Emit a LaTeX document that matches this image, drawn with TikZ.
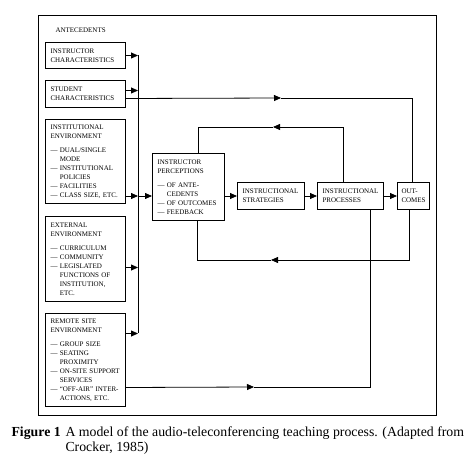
\documentclass[tikz,border=0pt]{standalone}
\usepackage{fontspec}
\setmainfont{Liberation Serif}
\usetikzlibrary{arrows.meta}

\newcommand{\dsh}{\textemdash\ }
\newcommand{\ind}{\hphantom{\textemdash\ }}

\begin{document}
\begin{tikzpicture}[x=1pt, y=-1pt,
  box/.style={draw, line width=1pt, anchor=north west, align=left,
    inner xsep=5pt, inner ysep=0pt, font=\fontsize{7}{9}\selectfont},
  line/.style={line width=0.8pt},
  arr/.style={line, -{Triangle[length=7pt,width=6pt]}}]
\useasboundingbox (0,0) rectangle (468,465);
\draw [line] (38,15) rectangle (436,415);
\node [anchor=base west, font=\fontsize{7}{9}\selectfont] (ante) at (52,33) {ANTECEDENTS};

% antecedents
\node [box, text width=70pt, minimum height=26pt] (instr) at (45,42)
  {INSTRUCTOR\\CHARACTERISTICS};
\node [box, text width=70pt, minimum height=27pt] (stud) at (45,80)
  {STUDENT\\CHARACTERISTICS};
\node [box, text width=70pt, minimum height=84pt] (inst) at (45,119)
  {INSTITUTIONAL\\ENVIRONMENT\\[5pt]
   \dsh DUAL/SINGLE\\\ind MODE\\\dsh INSTITUTIONAL\\\ind POLICIES\\
   \dsh FACILITIES\\\dsh CLASS SIZE, ETC.};
\node [box, text width=70pt, minimum height=85pt] (ext) at (45,216)
  {EXTERNAL\\ENVIRONMENT\\[5pt]
   \dsh CURRICULUM\\\dsh COMMUNITY\\\dsh LEGISLATED\\\ind FUNCTIONS OF\\
   \ind INSTITUTION,\\\ind ETC.};
\node [box, text width=70pt, minimum height=93pt] (rem) at (45,313)
  {REMOTE SITE\\ENVIRONMENT\\[5pt]
   \dsh GROUP SIZE\\\dsh SEATING\\\ind PROXIMITY\\\dsh ON-SITE SUPPORT\\
   \ind SERVICES\\\dsh ``OFF-AIR'' INTER-\\\ind ACTIONS, ETC.};

% process
\node [box, text width=62pt, minimum height=67pt] (perc) at (152,153)
  {INSTRUCTOR\\PERCEPTIONS\\[5pt]
   \dsh OF ANTE-\\\ind CEDENTS\\\dsh OF OUTCOMES\\\dsh FEEDBACK};
\node [box, text width=57pt, minimum height=27pt] (strat) at (237,182)
  {INSTRUCTIONAL\\STRATEGIES};
\node [box, text width=56pt, minimum height=27pt] (proc) at (317,182)
  {INSTRUCTIONAL\\PROCESSES};
\node [box, inner xsep=4pt, text width=24pt, minimum height=27pt] (outc) at (397,182)
  {OUT-\\COMES};

% bus
\coordinate (bustop) at (138,55);
\coordinate (busbot) at (138,333);
\draw [line] (bustop) -- (busbot);
\draw [arr] (instr.east) -- (instr.east -| bustop);
\draw [arr] ([yshift=3.5pt]stud.east) -- ([yshift=3.5pt]stud.east -| bustop);
\draw [arr] (inst.east |- strat.west) -- (bustop |- strat.west);
\draw [arr] ([yshift=-8.5pt]ext.east) -- ([yshift=-8.5pt]ext.east -| bustop);
\draw [arr] ([yshift=26.5pt]rem.east) -- ([yshift=26.5pt]rem.east -| bustop);
\draw [arr] (bustop |- strat.west) -- (perc.west |- strat.west);

% main row
\draw [arr] (perc.east |- strat.west) -- (strat.west);
\draw [arr] (strat.east) -- (proc.west);
\draw [arr] (proc.east) -- (outc.west);

% loops
\coordinate (sA) at (281,98);
\draw [arr] ([yshift=-4.5pt]stud.east) -- (sA);
\draw [line] (sA) -| ([xshift=-1pt]outc.north);
\coordinate (fA) at (273,127);
\draw [arr] ([xshift=-7pt]proc.north) |- (fA);
\draw [line] (fA) -| ([xshift=10pt]perc.north);
\coordinate (fB) at (271,260);
\draw [arr] ([xshift=-4pt]outc.south) |- (fB);
\draw [line] (fB) -| ([xshift=9pt]perc.south);
\coordinate (rA) at (254,387);
\draw [arr] ([yshift=-27.5pt]rem.east) -- (rA);
\draw [line] (rA) -| ([xshift=20pt]proc.south);

% caption
\node [anchor=base west, font=\fontsize{13.8}{14}\selectfont\bfseries] (fig) at (8,436) {Figure 1};
\node [anchor=base west, font=\fontsize{13.8}{14}\selectfont] (cap) at (62,436)
  {A model of the audio-teleconferencing teaching process. (Adapted from};
\node [anchor=base west, font=\fontsize{13.8}{14}\selectfont] (cap2) at (62,451)
  {Crocker, 1985)};
\end{tikzpicture}
\end{document}
